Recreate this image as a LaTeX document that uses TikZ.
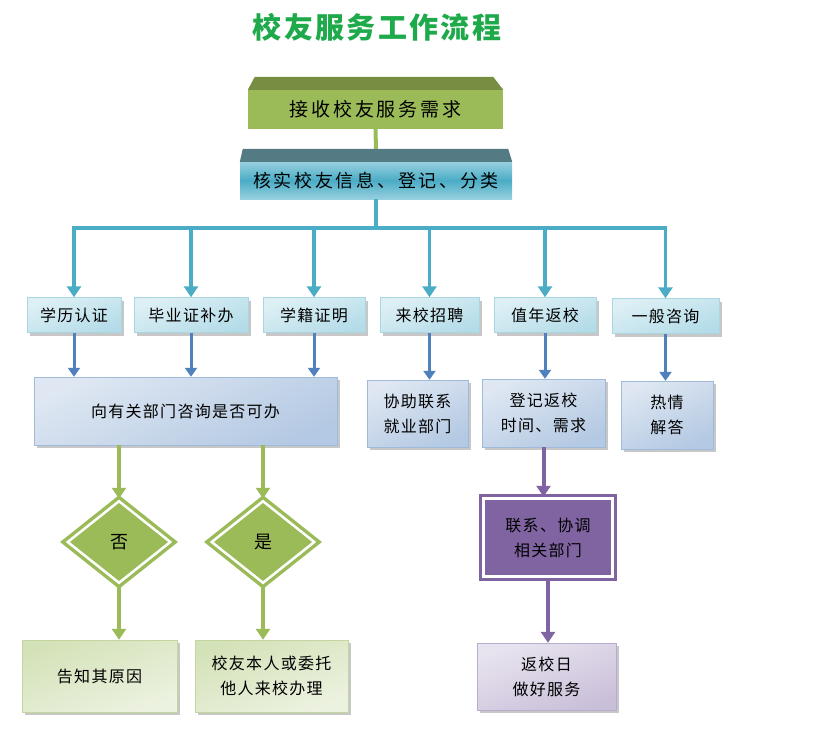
\documentclass[tikz,border=0pt]{standalone}
\usepackage{fontspec}
\usetikzlibrary{shapes.geometric, arrows.meta, calc, shadows}
\newfontfamily\cjk[LetterSpace=8]{Noto Sans CJK SC}
\newfontfamily\cjkwide[LetterSpace=15]{Noto Sans CJK SC}
\newfontfamily\cjktitle[LetterSpace=8]{Noto Sans CJK SC}
\definecolor{titlegreen}{RGB}{30,170,75}
\definecolor{olive}{RGB}{155,187,89}
\definecolor{olivetop}{RGB}{119,142,66}
\definecolor{slatetop}{RGB}{84,122,132}
\definecolor{aqua}{RGB}{75,172,198}
\definecolor{aqualight}{RGB}{150,208,222}
\definecolor{cyanA}{RGB}{222,240,245}
\definecolor{cyanB}{RGB}{180,220,232}
\definecolor{cyanline}{RGB}{170,214,226}
\definecolor{navy}{RGB}{79,129,189}
\definecolor{steelA}{RGB}{222,231,242}
\definecolor{steelB}{RGB}{180,201,227}
\definecolor{steelline}{RGB}{160,186,218}
\definecolor{leafA}{RGB}{236,242,224}
\definecolor{leafB}{RGB}{212,226,184}
\definecolor{leafline}{RGB}{196,214,160}
\definecolor{plum}{RGB}{128,100,162}
\definecolor{lilacA}{RGB}{232,228,239}
\definecolor{lilacB}{RGB}{202,191,217}
\definecolor{lilacline}{RGB}{186,172,206}
\begin{document}
\begin{tikzpicture}[x=1pt,y=-1pt,
    font=\cjk\fontsize{16}{25}\selectfont,
    box/.style={rectangle, inner sep=2pt, align=center,
        drop shadow={shadow xshift=3pt, shadow yshift=-3pt, fill=black!40, opacity=0.55}},
    catbox/.style={box, draw=cyanline, top color=cyanA, bottom color=cyanB, shading angle=20,
        minimum height=35},
    stepbox/.style={box, draw=steelline, top color=steelA, bottom color=steelB, shading angle=25},
    leafbox/.style={box, draw=leafline, top color=leafA, bottom color=leafB, shading angle=200},
    lilacbox/.style={box, draw=lilacline, top color=lilacA, bottom color=lilacB, shading angle=20},
    ringed/.style={fill=#1, draw=#1, double=white, double distance=2.5pt, line width=3.5pt,
        inner sep=0pt, align=center},
    blueline/.style={draw=aqua, line width=3.5pt},
    navyline/.style={draw=navy, line width=3pt, -{Triangle[width=12pt,length=9pt]}},
    greenline/.style={draw=olive, line width=4pt, -{Triangle[width=14pt,length=11pt]}},
    plumline/.style={draw=plum, line width=4pt, -{Triangle[width=14pt,length=11pt]}}]
    \useasboundingbox (0,0) rectangle (824,749);

    % Title
    \node[font=\cjktitle\bfseries\fontsize{29}{32}\selectfont, text=titlegreen] (title) at (377,27) {校友服务工作流程};

    % Top two steps
    \node[fill=olive, minimum width=255, minimum height=39, font=\cjkwide\fontsize{19}{22}\selectfont] (recv) at (375.5,109.5) {接收校友服务需求};
    \node[top color=aqualight, bottom color=aqualight, middle color=aqua, minimum width=272, minimum height=37,
        font=\cjkwide\fontsize{18}{22}\selectfont] (check) at (376,180.5) {核实校友信息、登记、分类};
    \draw[draw=olive, line width=4pt] (recv.south) -- ($(check.north)+(0,-13)$);
    \fill[olivetop] (recv.north west) -- (recv.north east) -- ($(recv.north east)+(-10,-13)$) -- ($(recv.north west)+(7,-13)$) -- cycle;
    \fill[slatetop] (check.north west) -- (check.north east) -- ($(check.north east)+(-4,-13)$) -- ($(check.north west)+(3,-13)$) -- cycle;

    % Categories
    \node[catbox, minimum width=94] (edu) at (74,315) {学历认证};
    \node[catbox, minimum width=114] (dipl) at (191,315) {毕业证补办};
    \node[catbox, minimum width=102] (stat) at (314,315) {学籍证明};
    \node[catbox, minimum width=99] (recruit) at (429.5,315) {来校招聘};
    \node[catbox, minimum width=102] (reunion) at (545,315) {值年返校};
    \node[catbox, minimum width=107] (query) at (665.5,316) {一般咨询};

    \coordinate (bus) at (0,228);
    \draw[blueline] (check.south) -- (check.south |- bus);
    \draw[blueline, line cap=rect] (edu |- bus) -- (query |- bus);
    \foreach \n in {edu,dipl,stat,recruit,reunion,query}
        \draw[blueline, -{Triangle[width=14pt,length=11pt]}] (\n |- bus) -- (\n.north);

    % Second level
    \node[stepbox, minimum width=303, minimum height=68] (ask) at (185.5,411) {向有关部门咨询是否可办};
    \node[stepbox, minimum width=101, minimum height=67] (help) at (417.5,413.5) {协助联系\\就业部门};
    \node[stepbox, minimum width=123, minimum height=68] (reg) at (543.5,413) {登记返校\\时间、需求};
    \node[stepbox, minimum width=92, minimum height=68] (answer) at (667,415) {热情\\解答};

    \foreach \n in {edu,dipl,stat}
        \draw[navyline] (\n.south) -- (\n.south |- ask.north);
    \draw[navyline] (recruit.south) -- (recruit.south |- help.north);
    \draw[navyline] (reunion.south) -- (reunion.south |- reg.north);
    \draw[navyline] (query.south) -- (query.south |- answer.north);

    % Decisions
    \node[diamond, ringed=olive, minimum width=104, minimum height=83, font=\cjk\fontsize{18}{22}\selectfont] (no) at (119,542) {否};
    \node[diamond, ringed=olive, minimum width=104, minimum height=83, font=\cjk\fontsize{18}{22}\selectfont] (yes) at (263,542) {是};
    \node[leafbox, minimum width=155, minimum height=72] (reason) at (99.5,676) {告知其原因};
    \node[leafbox, minimum width=153, minimum height=72] (handle) at (271.5,676) {校友本人或委托\\他人来校办理};

    \draw[greenline] (no.north |- ask.south) -- (no.north);
    \draw[greenline] (yes.north |- ask.south) -- (yes.north);
    \draw[greenline] (no.south) -- (no.south |- reason.north);
    \draw[greenline] (yes.south) -- (yes.south |- handle.north);

    % Reunion branch
    \node[rectangle, ringed=plum, minimum width=129, minimum height=78] (coord) at (548,537.5) {联系、协调\\相关部门};
    \node[lilacbox, minimum width=139, minimum height=67] (serve) at (546.5,676.5) {返校日\\做好服务};
    \draw[plumline] (reg.south) -- (reg.south |- coord.north);
    \draw[plumline] (coord.south) -- (coord.south |- serve.north);
\end{tikzpicture}
\end{document}
